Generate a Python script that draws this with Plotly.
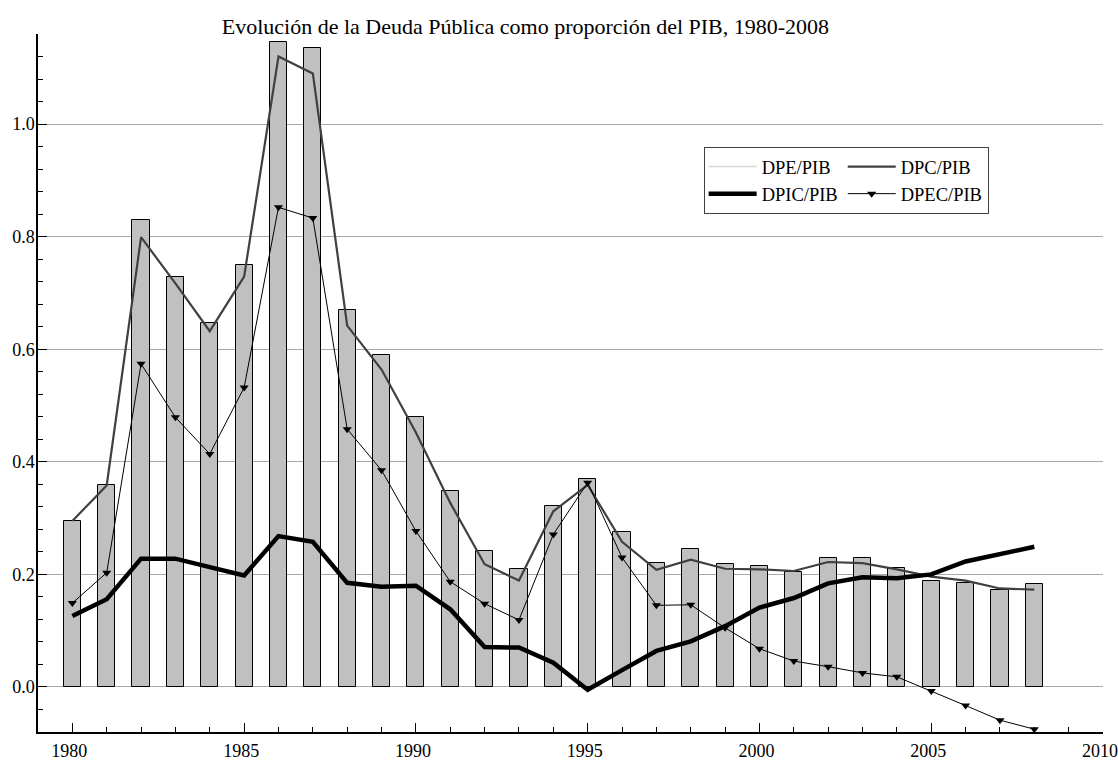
import plotly.graph_objects as go

years = list(range(1980, 2009))

# DPE/PIB (bars)
dpe = [0.295, 0.358, 0.829, 0.729, 0.647, 0.750, 1.145, 1.135, 0.669, 0.590,
       0.479, 0.349, 0.241, 0.209, 0.322, 0.369, 0.276, 0.221, 0.245, 0.218,
       0.215, 0.204, 0.229, 0.230, 0.211, 0.188, 0.185, 0.173, 0.183]

# DPC/PIB
dpc = [0.295, 0.358, 0.799, 0.717, 0.632, 0.729, 1.120, 1.090, 0.642, 0.564,
       0.452, 0.327, 0.218, 0.189, 0.312, 0.359, 0.258, 0.208, 0.226, 0.210,
       0.209, 0.206, 0.222, 0.220, 0.209, 0.196, 0.189, 0.175, 0.173]

# DPIC/PIB
dpic = [0.126, 0.156, 0.228, 0.228, 0.213, 0.198, 0.268, 0.258, 0.185, 0.178,
        0.180, 0.138, 0.071, 0.070, 0.043, -0.005, 0.030, 0.064, 0.081, 0.108,
        0.141, 0.158, 0.184, 0.195, 0.193, 0.200, 0.223, 0.236, 0.249]

# DPEC/PIB
dpec = [0.149, 0.203, 0.574, 0.479, 0.414, 0.532, 0.852, 0.833, 0.458, 0.385,
        0.277, 0.187, 0.148, 0.119, 0.271, 0.363, 0.230, 0.145, 0.146, 0.105,
        0.068, 0.046, 0.036, 0.025, 0.018, -0.007, -0.033, -0.059, -0.075]

FONT = "Liberation Serif"

fig = go.Figure()

# bars for DPE/PIB, legend entry is drawn as a light line like the original
fig.add_trace(go.Bar(x=years, y=dpe, width=0.5, name="DPE/PIB",
                     marker=dict(color="#c0c0c0", line=dict(color="black", width=1)),
                     showlegend=False))
fig.add_trace(go.Scatter(x=[None], y=[None], mode="lines", name="DPE/PIB",
                         line=dict(color="#d8d8d8", width=1.5),
                         legendgroup="a"))
fig.add_trace(go.Scatter(x=years, y=dpc, mode="lines", name="DPC/PIB",
                         line=dict(color="#404040", width=2.2),
                         legendgroup="b"))
fig.add_trace(go.Scatter(x=years, y=dpic, mode="lines", name="DPIC/PIB",
                         line=dict(color="black", width=4.5),
                         legendgroup="a"))
fig.add_trace(go.Scatter(x=years, y=dpec, mode="lines+markers", name="DPEC/PIB",
                         line=dict(color="black", width=1),
                         marker=dict(symbol="triangle-down", size=8, color="black"),
                         legendgroup="b"))

fig.update_layout(
    width=1118, height=760,
    paper_bgcolor="white", plot_bgcolor="white",
    font=dict(family=FONT, size=18, color="black"),
    margin=dict(l=38, r=15, t=34, b=28, autoexpand=False),
    title=dict(text="Evolución de la Deuda Pública como proporción del PIB, 1980-2008",
               x=0.47, xanchor="center", y=0.966, yanchor="middle",
               font=dict(family=FONT, size=22, color="black")),
    legend=dict(orientation="h", traceorder="grouped", tracegroupgap=28,
                itemwidth=48,
                x=0.625, xanchor="left", y=0.838, yanchor="top",
                bgcolor="white", bordercolor="#404040", borderwidth=1,
                font=dict(family=FONT, size=18.5)),
    showlegend=True,
    bargap=0,
)

fig.update_xaxes(range=[1979, 2010], dtick=5, tick0=1980, automargin=False,
                 showgrid=False, zeroline=False,
                 showline=True, linecolor="black", linewidth=1.5,
                 ticks="inside", ticklen=9, tickcolor="black", tickwidth=1,
                 tickfont=dict(family=FONT, size=18),
                 ticklabelstandoff=2, ticklabelshift=-3, ticklabeloverflow="allow",
                 minor=dict(dtick=1, ticks="inside", ticklen=5, tickcolor="black", showgrid=False))

fig.update_yaxes(range=[-0.08, 1.16], dtick=0.2, tick0=0, tickformat=".1f", automargin=False,
                 showgrid=True, gridcolor="#a8a8a8", gridwidth=1, zeroline=False,
                 showline=True, linecolor="black", linewidth=1.5,
                 ticks="inside", ticklen=9, tickcolor="black", tickwidth=1,
                 tickfont=dict(family=FONT, size=18), ticklabelstandoff=-2,
                 minor=dict(dtick=0.04, ticks="inside", ticklen=5, tickcolor="black", showgrid=False))

# the page has a default 8px body margin; drop it so the figure fills the window
fig.write_html("out.html", config={"displayModeBar": False},
               post_script="document.body.style.margin='0';")
